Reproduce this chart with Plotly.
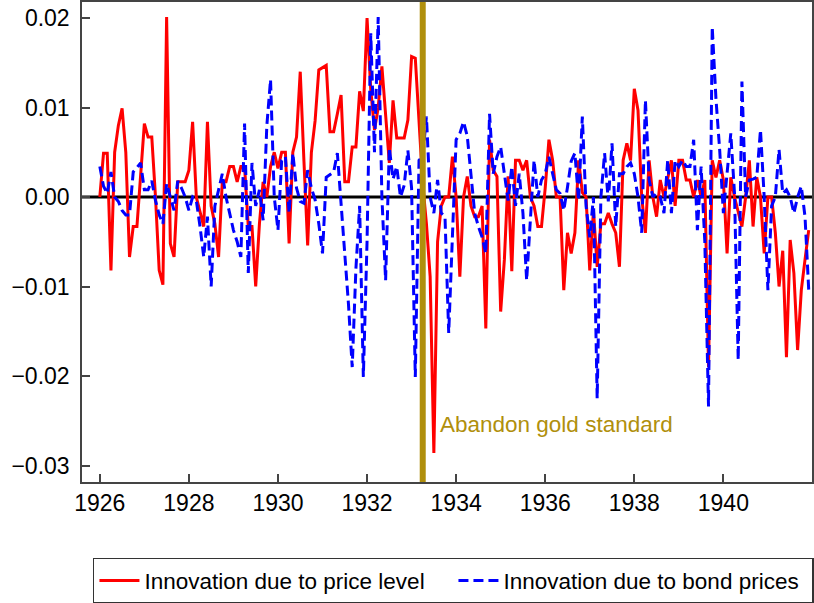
import pandas as pd
import plotly.graph_objects as go

# Monthly observations, Jan 1926 - Dec 1941
dates = pd.date_range("1926-01-01", periods=192, freq="MS")

price_level = [
    0.0, 0.0049, 0.0049, -0.0082, 0.005, 0.008, 0.0099, 0.005, -0.0067, -0.0033,
    -0.0033, 0.0026, 0.0082, 0.0067, 0.0067, 0.0, -0.0082, -0.0098, 0.0201, -0.0052,
    -0.0067, 0.0017, 0.0017, 0.0017, 0.003, 0.0084, 0.0, -0.0017, -0.0033, 0.0084,
    -0.001, -0.003, -0.0067, 0.0017, 0.0017, 0.0034, 0.0034, 0.0017, 0.0034, 0.0034,
    -0.0033, -0.0033, -0.010, -0.003, 0.0017, 0.0, 0.0034, 0.005, 0.0032, 0.005,
    0.005, -0.0052, 0.005, 0.0067, 0.014, 0.004, -0.0054, 0.005, 0.0085, 0.0142,
    0.0145, 0.0147, 0.0073, 0.0073, 0.0093, 0.0114, 0.0017, 0.0017, 0.0056, 0.0056,
    0.0118, 0.0096, 0.0200, 0.012, 0.0075, 0.010, 0.0146, 0.009, 0.0038, 0.0108,
    0.0066, 0.0066, 0.0066, 0.0086, 0.0157, 0.0155, 0.008, 0.0015, -0.003, -0.0089,
    -0.0286, -0.005, -0.001, 0.0, 0.0, 0.0045, 0.0, -0.0089, 0.0, 0.0023,
    -0.001, -0.0022, -0.0022, -0.001, -0.0147, 0.0064, 0.003, 0.0023, -0.0128, -0.007,
    0.0023, -0.0083, 0.0041, 0.0041, 0.003, 0.0041, 0.0, -0.001, -0.0033, -0.0033,
    0.001, 0.0064, 0.0041, 0.0, 0.0, -0.0104, -0.004, -0.0063, -0.004, 0.0041,
    0.0005, 0.0, -0.0082, -0.0015, -0.0078, -0.003, -0.003, -0.0018, -0.003, -0.004,
    -0.0078, 0.0041, 0.006, 0.0041, 0.0121, 0.0097, 0.0, -0.004, 0.0041, 0.0,
    -0.0022, 0.0019, 0.0, 0.0022, 0.0041, -0.001, 0.0041, 0.0041, 0.0019, 0.0019,
    0.0, 0.0019, 0.0, 0.0019, -0.019, 0.0041, 0.0022, 0.0041, 0.0019, -0.0063,
    0.0022, 0.0, -0.0015, -0.0033, 0.0, 0.0041, -0.0033, 0.0022, 0.0, -0.0063,
    0.0, 0.0, -0.004, -0.010, -0.006, -0.0179, -0.0048, -0.0085, -0.0171, -0.0104,
    -0.007, -0.0037,
]

bond_prices = [
    0.0034, 0.0012, 0.0004, 0.0028, 0.0, -0.0005, -0.0015, -0.002, -0.002, 0.0028,
    0.0033, 0.0038, 0.0008, 0.0008, 0.0018, -0.0004, -0.002, -0.003, 0.0015, 0.0,
    -0.0015, 0.0018, 0.001, 0.0, -0.0015, 0.0, -0.0004, -0.0033, -0.0067, -0.0022,
    -0.010, -0.001, 0.001, 0.0026, 0.0, -0.002, -0.0037, -0.005, -0.0067, 0.0082,
    -0.0085, 0.0038, -0.001, 0.0008, -0.0026, 0.008, 0.0131, 0.0, -0.0037, 0.0041,
    0.0045, -0.0018, 0.0049, 0.001, -0.0005, -0.0007, 0.003, 0.001, -0.0003, -0.003,
    -0.0063, 0.0022, 0.0025, 0.0028, 0.0049, -0.0007, -0.006, -0.012, -0.019, -0.008,
    -0.001, -0.0201, -0.005, 0.0183, 0.005, 0.0201, 0.0, -0.0093, 0.0055, 0.002,
    0.0034, 0.0, 0.0013, 0.0052, 0.001, -0.0201, 0.0041, 0.0045, 0.009, 0.0,
    -0.0018, 0.0019, -0.0018, -0.0022, -0.0152, -0.004, 0.0064, 0.0071, 0.0084, 0.0068,
    0.0026, -0.0018, -0.0033, -0.0045, -0.0063, 0.0093, 0.0026, 0.0045, 0.0056, 0.0026,
    -0.0004, 0.0034, -0.001, 0.0026, -0.0018, -0.0093, -0.003, 0.0041, 0.0, 0.0019,
    0.0026, 0.0045, 0.0026, 0.0008, 0.0004, -0.0015, 0.0011, 0.004, 0.0049, -0.0004,
    0.009, -0.001, -0.0045, 0.0, -0.0225, 0.0, 0.0049, -0.0005, 0.006, -0.0033,
    0.0026, 0.0026, 0.0034, 0.0038, 0.0026, 0.0, -0.004, 0.0108, 0.0019, 0.0,
    0.0004, 0.0, -0.0018, 0.0041, -0.0018, 0.0041, 0.0034, 0.0041, 0.0034, 0.0034,
    0.0064, -0.0037, 0.0034, -0.005, -0.0234, 0.019, 0.011, 0.0053, -0.0018, 0.003,
    0.0071, 0.0004, -0.0182, 0.0129, 0.0, 0.0019, 0.002, 0.0022, 0.0075, 0.0,
    -0.0104, -0.001, 0.0, 0.0053, 0.0004, 0.0008, 0.0, -0.0018, 0.0, 0.0012,
    -0.0022, -0.0104,
]

x_ticks = [1926, 1928, 1930, 1932, 1934, 1936, 1938, 1940]
y_ticks = [-0.03, -0.02, -0.01, 0.00, 0.01, 0.02]
gold_exit = 1933.25  # April 1933
gold_label = "Abandon gold standard"

x = [d.year + (d.month - 1) / 12 for d in dates]

GOLD = "#B08F0C"
FONT = "Liberation Sans, Arial, sans-serif"

fig = go.Figure()
fig.add_trace(go.Scatter(
    x=x, y=price_level, mode="lines", name="Innovation due to price level",
    line=dict(color="#FF0000", width=3),
))
fig.add_trace(go.Scatter(
    x=x, y=bond_prices, mode="lines", name="Innovation due to bond prices",
    line=dict(color="#0000FF", width=3, dash="10px,5px"),
))

# zero line
fig.add_shape(type="line", xref="paper", x0=0, x1=1, yref="y", y0=0, y1=0,
              line=dict(color="black", width=3), layer="below")
# gold standard line
fig.add_shape(type="line", xref="x", x0=gold_exit, x1=gold_exit, yref="paper", y0=0, y1=1,
              line=dict(color=GOLD, width=6))
fig.add_annotation(x=gold_exit + 0.35, y=-0.0254, xref="x", yref="y",
                   text=gold_label, showarrow=False, xanchor="left", yanchor="middle",
                   font=dict(color=GOLD, size=22.5, family=FONT))

fig.update_layout(
    width=814, height=603,
    margin=dict(l=82, r=2, t=2, b=121, autoexpand=False),
    plot_bgcolor="white", paper_bgcolor="white",
    font=dict(family=FONT, size=23, color="black"),
    showlegend=True,
    legend=dict(orientation="h", x=0.015, xanchor="left", y=-0.158, yanchor="top",
                bordercolor="#333333", borderwidth=1.5, bgcolor="white",
                font=dict(size=22.5, family=FONT), itemwidth=40,
                entrywidth=304, entrywidthmode="pixels", tracegroupgap=0),
)
fig.update_xaxes(range=[1925.6, 1941.99], tickvals=x_ticks, ticktext=[str(v) for v in x_ticks],
                 ticks="inside", ticklen=8, tickwidth=1.5, tickcolor="#444",
                 showline=True, linecolor="#444", linewidth=1.5, mirror=True,
                 showgrid=False, zeroline=False, tickfont=dict(size=23))
fig.update_yaxes(range=[-0.031844, 0.021788], tickvals=y_ticks, tickformat=".2f",
                 ticks="inside", ticklen=8, tickwidth=1.5, tickcolor="#444",
                 showline=True, linecolor="#444", linewidth=1.5, mirror=True,
                 showgrid=False, zeroline=False, tickfont=dict(size=23),
                 ticklabelstandoff=6)

fig.write_html("out.html", config={"displayModeBar": False},
               post_script="document.body.style.margin='0';document.body.style.overflow='hidden';")
